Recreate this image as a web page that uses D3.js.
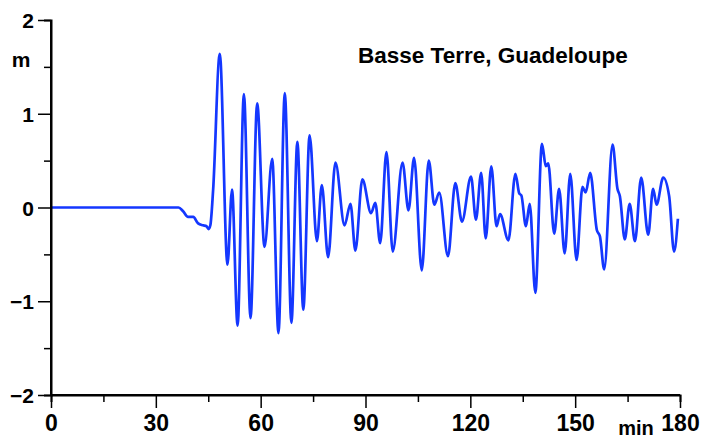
<!DOCTYPE html>
<html>
<head>
<meta charset="utf-8">
<script src="https://cdn.jsdelivr.net/npm/d3@7"></script>
<style>
  body { margin: 0; background: #fff; }
  text { font-family: "Liberation Sans", Arial, sans-serif; font-weight: bold; fill: #000; }
</style>
</head>
<body>
<div id="chart"></div>
<script>
// tide gauge record at the turning points (min, m)
const times = [0, 36.5, 37.8, 39.2, 40.7, 42.1, 43.5, 44.5, 45.1, 45.6, 46.4, 48.3,
  50.5, 51.8, 53.4, 55.2, 57.1, 59.0, 61.1, 63.3, 65.1, 66.9, 68.8, 70.5,
  72.2, 74.0, 76.1, 77.5, 79.3, 81.4, 84.0, 85.7, 87.1, 89.1, 91.6, 92.8,
  94.2, 96.0, 97.8, 100.6, 102.3, 103.9, 106.1, 108.1, 109.7, 111.1, 113.6,
  115.7, 117.6, 120.2, 121.6, 123.1, 124.4, 126.0, 127.5, 128.5, 130.9,
  132.9, 134.0, 134.6, 135.9, 137.0, 138.6, 140.5, 141.6, 142.3, 144.0,
  145.4, 147.0, 148.6, 150.4, 152.1, 153.0, 154.3, 156.2, 157.1, 158.3,
  160.7, 162.1, 162.8, 164.2, 165.6, 167.1, 168.9, 170.9, 172.3, 173.3,
  175.2, 176.9, 178.3, 179.4];
const level = [0, 0, -0.04, -0.10, -0.10, -0.17, -0.19, -0.20, -0.23, -0.19, 0.19, 1.64,
  -0.61, 0.19, -1.26, 1.21, -1.18, 1.11, -0.42, 0.52, -1.34, 1.22, -1.23, 0.70,
  -1.09, 0.77, -0.36, 0.24, -0.53, 0.48, -0.19, 0.04, -0.46, 0.30, -0.06, 0.05,
  -0.38, 0.59, -0.47, 0.48, -0.03, 0.53, -0.67, 0.50, 0.03, 0.16, -0.52,
  0.26, -0.15, 0.33, -0.13, 0.37, -0.33, 0.44, -0.20, -0.07, -0.35,
  0.36, 0.15, 0.13, -0.20, 0.04, -0.91, 0.68, 0.44, 0.47, -0.28,
  0.20, -0.49, 0.36, -0.56, 0.22, 0.16, 0.37, -0.24, -0.31, -0.66,
  0.67, 0.20, 0.12, -0.34, 0.04, -0.36, 0.32, -0.29, 0.20, 0.03,
  0.32, 0.12, -0.47, -0.12];

const xTicks = [0, 30, 60, 90, 120, 150, 180];
const xMinor = [15, 45, 75, 105, 135, 165];
const yTicks = [-2, -1, 0, 1, 2];
const yMinor = [-1.5, -0.5, 0.5, 1.5];
const title = "Basse Terre, Guadeloupe";

const W = 702, H = 439;
const x = d3.scaleLinear().domain([0, 180]).range([51, 680]);
const y = d3.scaleLinear().domain([-2, 2]).range([395, 20]);

const svg = d3.select("#chart").append("svg")
  .attr("width", W).attr("height", H);

// the series
const pts = times.map((t, i) => [t, level[i]]);
svg.append("path")
  .attr("d", d3.line().x(d => x(d[0])).y(d => y(d[1])).curve(d3.curveMonotoneX)(pts))
  .attr("fill", "none")
  .attr("stroke", "#1437ff")
  .attr("stroke-width", 2.7)
  .attr("stroke-linejoin", "round");

// axes
const yAxis = svg.append("g").attr("transform", "translate(51,0)")
  .call(d3.axisLeft(y).tickValues(yTicks).tickSize(13).tickFormat(d3.format("d")));
svg.append("g").attr("transform", "translate(51,0)")
  .call(d3.axisLeft(y).tickValues(yMinor).tickSize(7).tickFormat(""));
const xAxis = svg.append("g").attr("transform", "translate(0,395)")
  .call(d3.axisBottom(x).tickValues(xTicks).tickSize(13).tickFormat(d3.format("d")));
svg.append("g").attr("transform", "translate(0,395)")
  .call(d3.axisBottom(x).tickValues(xMinor).tickSize(7).tickFormat(""));

svg.selectAll(".domain").attr("stroke", "#000").attr("stroke-width", 2);
svg.selectAll(".tick line").attr("stroke", "#000").attr("stroke-width", 1.5);

yAxis.selectAll(".domain").attr("d", "M0,20V395");
xAxis.selectAll(".domain").attr("d", "M51,0H680");

yAxis.selectAll("text")
  .attr("x", -17).attr("dy", "0.36em")
  .style("font-size", "21px").style("font-family", "Liberation Sans, Arial, sans-serif")
  .style("font-weight", "bold").attr("fill", "#000");
xAxis.selectAll("text")
  .attr("y", 36).attr("dy", 0)
  .style("font-size", "23px").style("font-family", "Liberation Sans, Arial, sans-serif")
  .style("font-weight", "bold").attr("fill", "#000");

// unit labels and title
svg.append("text").attr("x", 636).attr("y", 435).attr("text-anchor", "middle")
  .style("font-size", "20px").text("min");
svg.append("text").attr("x", 21).attr("y", 67).attr("text-anchor", "middle")
  .style("font-size", "21px").text("m");
svg.append("text").attr("x", 358).attr("y", 63).style("font-size", "22.5px").text(title);
</script>
</body>
</html>
